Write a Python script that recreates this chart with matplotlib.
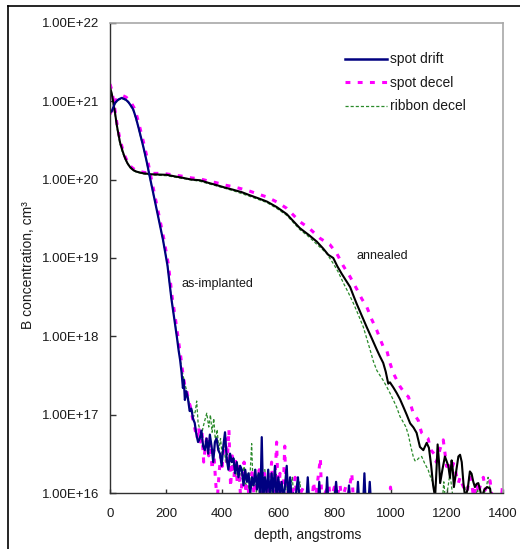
import matplotlib
matplotlib.use("Agg")
import matplotlib.pyplot as plt
from matplotlib.lines import Line2D

plt.rcParams['font.family'] = ['Liberation Sans', 'DejaVu Sans']

# ---------------- data ----------------
# as-implanted, spot drift
ai_drift_x = [0, 6, 18, 30, 42, 55, 65, 75, 83, 92, 101, 110, 119, 130, 142, 157, 173, 189, 205, 219, 230, 239, 245,
              250, 255, 260, 263, 267, 272, 278, 284, 290, 296, 302, 308, 314, 320, 326, 332, 338, 344, 350, 356, 362,
              368, 374, 380, 386, 392, 398, 404, 410, 416, 422, 428, 434, 440, 446, 452, 458, 464, 470, 476, 482, 488,
              494, 500, 506, 512, 518, 524, 530, 536, 541, 546, 552, 558, 564, 570, 576, 582, 588, 594, 600, 606, 612,
              618, 624, 630, 636, 642, 648, 654, 660, 670, 676, 700, 705, 710, 742, 746, 750, 770, 774, 778, 800, 806,
              812, 848, 852, 856, 880, 884, 888, 903, 907, 911, 922, 926, 930, 945]
ai_drift_y = [7.2e20, 7.4e20, 9.5e20, 1.05e21, 1.1e21, 1.05e21, 9.8e20, 8.7e20, 7.8e20, 6.2e20, 4.7e20, 3.5e20,
              2.6e20, 1.75e20, 1.08e20, 6.0e19, 3.2e19, 1.7e19, 8.0e18, 3.0e18, 1.6e18, 9.5e17, 6.5e17,
              5.0e17, 3.5e17, 2.2e17, 2.8e17, 1.55e17, 2.0e17, 1.6e17, 1.12e17, 1.2e17, 8.9e16, 7.9e16, 5.6e16,
              4.5e16, 5.0e16, 6.3e16, 4.0e16, 3.55e16, 5.0e16, 3.2e16, 5.6e16, 4.0e16, 2.5e16, 4.5e16, 5.0e16,
              3.55e16, 3.2e16, 2.24e16, 4.0e16, 6.0e16, 2.8e16, 2.0e16, 3.2e16, 2.5e16, 2.8e16, 1.8e16, 2.5e16,
              1.6e16, 2.24e16, 2.0e16, 1.26e16, 2.0e16, 1.4e16, 1.8e16, 1.0e16, 1.6e16, 1.26e16, 2.0e16, 1.12e16,
              1.8e16, 8e15, 5.2e16, 8e15, 1.6e16, 1.0e16, 2.0e16, 8e15, 1.8e16, 1.0e16, 2.24e16, 8e15, 1.6e16,
              1.0e16, 1.4e16, 8e15, 1.26e16, 2.24e16, 8e15, 1.6e16, 8e15, 1.0e16, 8e15, 1.6e16, 8e15, 8e15, 1.6e16,
              8e15, 8e15, 1.4e16, 8e15, 8e15, 1.6e16, 8e15, 8e15, 1.4e16, 8e15, 8e15, 1.26e16, 8e15, 8e15, 1.4e16,
              8e15, 8e15, 1.8e16, 8e15, 8e15, 1.4e16, 8e15, 8e15]

# as-implanted, spot decel
ai_decel_x = [0, 6, 18, 30, 45, 58, 68, 78, 86, 95, 104, 113, 122, 133, 145, 160, 176, 192, 208, 222, 233, 242, 248,
              252, 257, 262, 268, 274, 280, 286, 292, 298, 304, 310, 316, 322, 328, 334, 340, 346, 352, 358, 364, 370,
              376, 382, 388, 394, 400, 406, 412, 418, 424, 430, 436, 442, 448, 454, 460, 466, 472, 478, 484, 490, 496,
              502, 508, 514, 520, 526, 532, 538, 544, 550, 556, 562, 568, 576, 582, 588, 594, 600, 606, 612, 618, 623,
              628, 640, 646, 660, 666, 690, 696, 720, 726, 732, 750, 755, 780, 786, 800, 806, 820, 826, 840, 846, 862,
              868, 900, 995, 1000, 1005]
ai_decel_y = [6.8e20, 7.6e20, 1.0e21, 1.12e21, 1.18e21, 1.12e21, 1.03e21, 9.2e20, 8.2e20, 6.6e20, 5.0e20, 3.7e20,
              2.75e20, 1.85e20, 1.12e20, 6.2e19, 3.3e19, 1.75e19, 8.3e18, 3.1e18, 1.7e18, 1.0e18, 7.0e17,
              5.6e17, 4.0e17, 3.0e17, 2.2e17, 2.0e17, 1.5e17, 1.3e17, 1.0e17, 7.9e16, 6.3e16, 5.0e16, 7.0e16, 4.5e16,
              6.0e16, 2.5e16, 4.0e16, 5.5e16, 3.0e16, 4.5e16, 2.0e16, 3.55e16, 1.5e16, 8e15, 1.6e16, 3.0e16, 2.2e16,
              4.0e16, 5.0e16, 2.5e16, 6.5e16, 1.2e16, 3.0e16, 1.6e16, 2.8e16, 1.3e16, 2.2e16, 8e15, 1.8e16, 2.5e16,
              1.0e16, 1.6e16, 8e15, 1.4e16, 2.0e16, 8e15, 1.6e16, 1.2e16, 2.0e16, 8e15, 1.4e16, 1.8e16, 8e15, 1.3e16,
              8e15, 2.5e16, 8e15, 1.4e16, 4.5e16, 8e15, 1.8e16, 8e15, 1.2e16, 4.0e16, 8e15, 1.3e16, 8e15, 1.6e16,
              8e15, 1.2e16, 8e15, 8e15, 1.4e16, 8e15, 2.8e16, 8e15, 1.3e16, 8e15, 1.2e16, 8e15, 1.3e16, 8e15, 1.2e16,
              8e15, 1.8e16, 8e15, 8e15, 8e15, 1.2e16, 8e15]

# as-implanted, ribbon decel
ai_ribbon_x = [0, 6, 18, 30, 42, 55, 65, 75, 83, 92, 101, 110, 119, 130, 142, 157, 173, 189, 205, 219, 230, 239, 245,
               250, 256, 262, 268, 274, 280, 286, 292, 298, 304, 309, 314, 320, 326, 332, 338, 345, 352, 358, 364,
               370, 376, 382, 388, 394, 400, 406, 412, 418, 424, 430, 436, 442, 448, 454, 460, 466, 472, 478, 484,
               490, 496, 505, 510, 516, 522, 528, 534, 540, 546, 552, 558, 564, 570, 580, 586, 592, 598, 610, 616,
               630, 636, 650, 656, 677, 683, 700]
ai_ribbon_y = [7.0e20, 7.3e20, 9.3e20, 1.03e21, 1.08e21, 1.03e21, 9.6e20, 8.5e20, 7.6e20, 6.0e20, 4.6e20, 3.4e20,
               2.55e20, 1.72e20, 1.06e20, 5.9e19, 3.2e19, 1.7e19, 8.0e18, 3.0e18, 1.65e18, 9.8e17, 6.8e17,
               5.2e17, 3.8e17, 3.0e17, 2.4e17, 2.0e17, 1.6e17, 1.1e17, 1.2e17, 9.5e16, 1.1e17, 1.5e17, 8.0e16, 6.5e16,
               5.5e16, 7.0e16, 8.5e16, 1.05e17, 7.0e16, 1.0e17, 6.0e16, 9.0e16, 4.5e16, 6.5e16, 3.5e16, 5.0e16,
               3.0e16, 4.5e16, 2.5e16, 3.5e16, 2.0e16, 3.0e16, 2.2e16, 2.8e16, 1.6e16, 2.4e16, 1.4e16, 2.0e16,
               1.5e16, 2.2e16, 1.2e16, 1.8e16, 1.0e16, 4.3e16, 1.2e16, 2.0e16, 1.0e16, 1.8e16, 8e15, 1.6e16, 1.2e16,
               2.0e16, 1.0e16, 1.6e16, 8e15, 1.5e16, 1.2e16, 1.8e16, 8e15, 1.4e16, 8e15, 1.3e16, 8e15, 1.6e16, 8e15,
               1.4e16, 8e15, 8e15]

# annealed, spot drift
an_drift_x = [0, 6, 12, 18, 24, 30, 36, 45, 53, 62, 71, 83, 95, 107, 119, 131, 143, 170, 202, 230, 261, 290, 321,
              350, 380, 410, 440, 470, 499, 530, 559, 594, 630, 677, 710, 737, 760, 778, 796, 810, 826, 840, 856, 868,
              879, 897, 915, 933, 951, 962, 974, 983, 992, 998, 1010, 1022, 1034, 1046, 1058, 1070, 1082, 1093, 1105,
              1117, 1129, 1137, 1145, 1152, 1159, 1164, 1168, 1173, 1177, 1185, 1194, 1206, 1212, 1218, 1222, 1226,
              1235, 1242, 1248, 1254, 1260, 1266, 1275, 1283, 1289, 1295, 1301, 1307, 1313, 1319, 1325, 1335, 1345,
              1355, 1362]
an_drift_y = [1.5e21, 1.26e21, 9.5e20, 7.1e20, 5.0e20, 3.8e20, 2.95e20, 2.3e20, 1.9e20, 1.62e20, 1.45e20, 1.32e20,
              1.26e20, 1.23e20, 1.2e20, 1.19e20, 1.17e20, 1.16e20, 1.15e20, 1.1e20, 1.05e20, 1.0e20, 9.8e19, 9.1e19,
              8.5e19, 7.9e19, 7.4e19, 6.9e19, 6.3e19, 5.75e19, 5.25e19, 4.47e19, 3.63e19, 2.4e19, 1.95e19, 1.62e19,
              1.32e19, 1.1e19, 1.0e19, 7.9e18, 6.3e18, 5.25e18, 4.27e18, 3.3e18, 2.63e18, 1.86e18, 1.32e18, 9.5e17,
              6.8e17, 5.6e17, 4.6e17, 3.55e17, 2.5e17, 2.6e17, 2.24e17, 1.9e17, 1.58e17, 1.26e17, 1.0e17, 7.8e16,
              6.9e16, 5.9e16, 3.9e16, 3.55e16, 4.4e16, 3.8e16, 2.24e16, 1.26e16, 8.9e15, 2.0e16, 4.2e16, 2.5e16,
              1.35e16, 2.0e16, 2.95e16, 2.24e16, 1.58e16, 2.63e16, 2.0e16, 1.2e16, 2.0e16, 2.95e16, 3.1e16, 2.5e16,
              1.35e16, 8.9e15, 1.12e16, 1.9e16, 1.78e16, 1.41e16, 1.2e16, 1.32e16, 1.35e16, 1.12e16, 8.9e15,
              1.12e16, 1.2e16, 1.15e16, 7.9e15]

# annealed, spot decel
an_decel_x = [0, 6, 12, 18, 24, 30, 36, 45, 53, 62, 71, 83, 95, 107, 119, 143, 170, 202, 230, 261, 290, 321, 350,
              380, 410, 440, 470, 499, 530, 559, 594, 630, 677, 710, 749, 784, 808, 832, 856, 880, 898, 915, 933, 951,
              962, 974, 986, 998, 1010, 1022, 1034, 1046, 1055, 1064, 1072, 1081, 1090, 1099, 1105, 1111, 1120, 1128,
              1134, 1140, 1146, 1155, 1163, 1170, 1176, 1182, 1188, 1194, 1200, 1206, 1212, 1218, 1224, 1229, 1236,
              1242, 1248, 1256, 1265, 1270, 1276, 1283, 1290, 1296, 1302, 1307, 1314, 1320, 1331, 1338, 1345, 1355,
              1362, 1370, 1395, 1400]
an_decel_y = [1.65e21, 1.4e21, 1.05e21, 7.6e20, 5.4e20, 4.1e20, 3.2e20, 2.45e20, 2.0e20, 1.7e20, 1.5e20, 1.38e20,
              1.3e20, 1.26e20, 1.24e20, 1.2e20, 1.2e20, 1.18e20, 1.14e20, 1.1e20, 1.05e20, 1.02e20, 9.6e19, 9.1e19,
              8.5e19, 8.1e19, 7.6e19, 7.1e19, 6.5e19, 6.0e19, 5.2e19, 4.3e19, 2.9e19, 2.4e19, 1.78e19, 1.48e19,
              1.15e19, 7.9e18, 5.75e18, 4.0e18, 3.0e18, 2.4e18, 1.65e18, 1.2e18, 9.5e17, 7.4e17, 6.8e17, 4.6e17,
              3.4e17, 2.8e17, 2.3e17, 2.0e17, 1.8e17, 1.7e17, 1.35e17, 1.05e17, 9.5e16, 8.5e16, 7.0e16, 5.9e16,
              5.5e16, 5.2e16, 5.0e16, 4.0e16, 3.5e16, 3.2e16, 2.5e16, 2.95e16, 3.6e16, 4.2e16, 4.8e16, 3.3e16,
              2.2e16, 2.6e16, 1.9e16, 2.0e16, 2.4e16, 2.2e16, 1.6e16, 1.35e16, 1.6e16, 1.3e16, 1.1e16, 8.5e15,
              1.2e16, 1.6e16, 1.3e16, 9e15, 1.1e16, 1.35e16, 1.0e16, 1.25e16, 1.6e16, 1.1e16, 1.35e16, 1.45e16, 9e15,
              8e15, 8e15, 1.35e16]

# annealed, ribbon decel
an_ribbon_x = [0, 6, 12, 18, 24, 30, 36, 45, 53, 62, 71, 83, 95, 119, 143, 202, 261, 321, 380, 440, 499, 559, 594,
               630, 677, 710, 737, 772, 796, 814, 832, 850, 868, 885, 903, 915, 927, 939, 951, 962, 974, 986, 998,
               1010, 1022, 1034, 1046, 1055, 1064, 1072, 1081, 1087, 1093, 1100, 1111, 1122, 1134, 1143, 1152, 1158,
               1164, 1185, 1190, 1196, 1205, 1212, 1218, 1224, 1260, 1270, 1278, 1300, 1310, 1318, 1340, 1348, 1354,
               1360, 1400]
an_ribbon_y = [1.45e21, 1.2e21, 9.0e20, 6.8e20, 4.8e20, 3.6e20, 2.8e20, 2.2e20, 1.85e20, 1.6e20, 1.42e20, 1.3e20,
               1.24e20, 1.18e20, 1.15e20, 1.12e20, 1.03e20, 9.5e19, 8.3e19, 7.2e19, 6.1e19, 5.1e19, 4.3e19, 3.5e19,
               2.3e19, 1.85e19, 1.5e19, 1.15e19, 8.5e18, 6.6e18, 4.8e18, 3.6e18, 2.63e18, 1.9e18, 1.32e18, 9.5e17,
               6.8e17, 4.8e17, 3.7e17, 3.2e17, 2.75e17, 2.3e17, 1.9e17, 1.55e17, 1.25e17, 9.5e16, 8.0e16, 7.0e16,
               5.5e16, 4.0e16, 2.95e16, 2.6e16, 2.6e16, 2.8e16, 2.95e16, 2.4e16, 2.0e16, 1.6e16, 1.35e16, 1.0e16,
               8e15, 8e15, 1.4e16, 8e15, 1.2e16, 1.8e16, 1.2e16, 8e15, 8e15, 1.2e16, 8e15, 8e15, 1.15e16, 8e15,
               1.1e16, 1.6e16, 1.2e16, 8e15, 8e15]

series_labels = ["spot drift", "spot decel", "ribbon decel"]
y_ticks = [1e16, 1e17, 1e18, 1e19, 1e20, 1e21, 1e22]
y_tick_labels = ["1.00E+16", "1.00E+17", "1.00E+18", "1.00E+19", "1.00E+20", "1.00E+21", "1.00E+22"]
x_ticks = [0, 200, 400, 600, 800, 1000, 1200, 1400]
x_tick_labels = ["0", "200", "400", "600", "800", "1000", "1200", "1400"]

# ---------------- figure ----------------
W, H = 520, 549
fig = plt.figure(figsize=(W / 100, H / 100), dpi=100)
fig.patch.set_facecolor('white')

L, R, T, B = 110, 502.7, 22.7, 493.3
ax = fig.add_axes([L / W, 1 - B / H, (R - L) / W, (B - T) / H])

NAVY = '#000080'
MAG = '#FF00FF'
GRN = '#2a8a2a'
DASH = (0, (1.6, 2.4))
DOT = (0, (2.5, 1.6))

ax.plot(an_ribbon_x, an_ribbon_y, color=GRN, lw=0.9, ls=DOT)
ax.plot(ai_ribbon_x, ai_ribbon_y, color=GRN, lw=0.9, ls=DOT)
ax.plot(an_decel_x, an_decel_y, color=MAG, lw=2.2, ls=DASH)
ax.plot(ai_decel_x, ai_decel_y, color=MAG, lw=2.2, ls=DASH)
ax.plot(an_drift_x, an_drift_y, color='black', lw=1.5)
ax.plot(ai_drift_x, ai_drift_y, color=NAVY, lw=1.6)

ax.set_yscale('log')
ax.set_xlim(0, 1400)
ax.set_ylim(1e16, 1e22)
ax.set_yticks(y_ticks)
ax.set_yticklabels(y_tick_labels)
ax.yaxis.set_minor_locator(matplotlib.ticker.NullLocator())
ax.set_xticks(x_ticks)
ax.set_xticklabels(x_tick_labels)

TXT = '#1a1a1a'
ax.tick_params(axis='y', direction='in', length=4, width=1, color='#303030', pad=7.5,
               labelsize=9.5, labelcolor=TXT)
ax.tick_params(axis='x', direction='in', length=3, width=1, color='#303030', pad=10.8,
               labelsize=9.5, labelcolor=TXT)
for s in ('left', 'bottom'):
    ax.spines[s].set_color('#303030')
    ax.spines[s].set_linewidth(1.0)
for s in ('top', 'right'):
    ax.spines[s].set_color('#a8a8a8')
    ax.spines[s].set_linewidth(1.2)

ax.text(880, 1.07e19, 'annealed', fontsize=9, color=TXT, va='center', ha='left')
ax.text(255, 4.6e18, 'as-implanted', fontsize=9, color=TXT, va='center', ha='left')

fig.text(308 / W, 1 - 535 / H, 'depth, angstroms', fontsize=10, color=TXT, ha='center', va='center')
fig.text(27.5 / W, 1 - 265 / H, 'B concentration, cm³', fontsize=10, color=TXT,
         ha='center', va='center', rotation=90)

handles = [Line2D([], [], color=NAVY, lw=1.8),
           Line2D([], [], color=MAG, lw=2.2, ls=DASH),
           Line2D([], [], color=GRN, lw=0.9, ls=DOT)]
ax.legend(handles, series_labels, loc='upper left', bbox_to_anchor=(345 / W, 1 - 52.5 / H),
          bbox_transform=fig.transFigure, frameon=False, fontsize=10, handlelength=3.0,
          handletextpad=0.25, labelspacing=0.68, borderpad=0, borderaxespad=0,
          labelcolor=TXT)

# outer frame (left and top edges)
fig.add_artist(Line2D([8 / W, 8 / W], [0, 1 - 6 / H], transform=fig.transFigure, color='black', lw=1.2))
fig.add_artist(Line2D([8 / W, 1], [1 - 6 / H, 1 - 6 / H], transform=fig.transFigure, color='black', lw=1.2))

fig.savefig('out.png', dpi=100, facecolor='white')
